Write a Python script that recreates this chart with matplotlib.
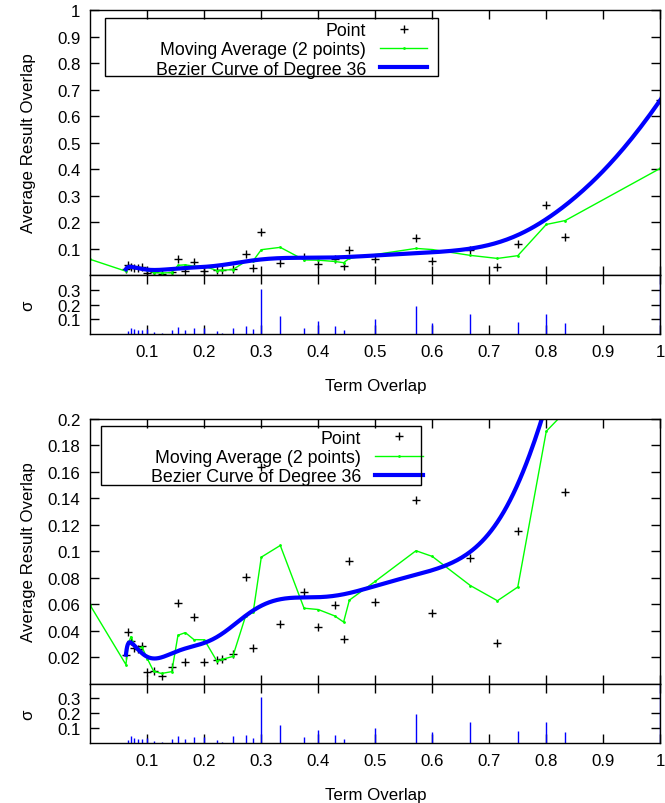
import math
import numpy as np
import pandas as pd
import matplotlib
matplotlib.use("Agg")
import matplotlib.pyplot as plt
from matplotlib.patches import Rectangle

plt.rcParams['font.family'] = ['Liberation Sans', 'DejaVu Sans']
plt.rcParams['font.size'] = 12.2

# term overlap / average result overlap
term_overlap = [0.0625, 0.0667, 0.0714, 0.0769, 0.0833, 0.0909, 0.1, 0.1111,
                0.125, 0.1429, 0.1538, 0.1667, 0.1818, 0.2, 0.2222, 0.2308,
                0.25, 0.2727, 0.2857, 0.3, 0.3333, 0.375, 0.4, 0.4286,
                0.4444, 0.4545, 0.5, 0.5714, 0.6, 0.6667, 0.7143, 0.75,
                0.8, 0.8333, 1.0]
result_overlap = [0.0218, 0.039, 0.032, 0.027, 0.026, 0.0287, 0.0090, 0.0095,
                  0.0057, 0.0123, 0.0607, 0.0163, 0.0501, 0.0160, 0.0178, 0.0186,
                  0.0223, 0.0804, 0.0271, 0.164, 0.0448, 0.0691, 0.0428, 0.0595,
                  0.0335, 0.0926, 0.0620, 0.1388, 0.0534, 0.0948, 0.0304, 0.1155,
                  0.266, 0.1451, 0.66]
sigma = [0.0, 0.02, 0.044, 0.031, 0.029, 0.024, 0.031, 0.013,
         0.004, 0.024, 0.047, 0.027, 0.038, 0.04, 0.02, 0.009,
         0.044, 0.056, 0.036, 0.307, 0.12, 0.038, 0.089, 0.053,
         0.027, 0.0, 0.102, 0.193, 0.073, 0.138, 0.0, 0.08,
         0.138, 0.073, 0.45]
# moving average enters from the left edge
ma_start_x = 0.0
ma_start_y = 0.059
ma_first = 0.0143

x = np.array(term_overlap)
y = np.array(result_overlap)

ma = pd.Series(y).rolling(2).mean().to_numpy()
ma[0] = ma_first
ma_x = np.concatenate([[ma_start_x], x])
ma_y = np.concatenate([[ma_start_y], ma])

# bezier with all points as control points
n = len(x) - 1
t = np.linspace(0, 1, 600)
bx = np.zeros_like(t)
by = np.zeros_like(t)
for i in range(n + 1):
    b = math.comb(n, i) * t**i * (1 - t)**(n - i)
    bx += b * x[i]
    by += b * y[i]

fig = plt.figure(figsize=(6.65, 8.04), dpi=100)
L, W = 0.1358, 0.8571
# (main axes, sigma axes, ymax, yticks, legend box, legend anchor)
panels = [
    (fig.add_axes([L, 0.6567, W, 0.3296]), fig.add_axes([L, 0.5833, W, 0.0734]),
     1.0, np.arange(0.1, 1.01, 0.1), (0.026, 0.751, 0.584, 0.219), (0.591, 0.955)),
    (fig.add_axes([L, 0.1486, W, 0.3290]), fig.add_axes([L, 0.0746, W, 0.0740]),
     0.2, np.arange(0.02, 0.201, 0.02), (0.019, 0.7505, 0.562, 0.222), (0.583, 0.960)),
]

for ax, sx, ytop, yt, box, anchor in panels:
    ax.plot(x, y, '+', color='black', ms=5.5, mew=1, label='Point')
    ax.plot(ma_x, ma_y, '-', color='#00ff00', lw=1, marker='.', ms=2,
            label='Moving Average (2 points)')
    ax.plot(bx, by, '-', color='#0000ff', lw=3, label='Bezier Curve of Degree 36')
    ax.set_xlim(0, 1)
    ax.set_ylim(0, ytop)
    ax.set_yticks(yt)
    ax.set_yticklabels(['%g' % round(v, 2) for v in yt])
    ax.set_xticks(np.arange(0.1, 1.01, 0.1))
    ax.tick_params(labelbottom=False)
    ax.set_ylabel('Average Result Overlap')
    ax.yaxis.set_label_coords(-0.096, 0.5)

    ax.add_patch(Rectangle(box[:2], box[2], box[3], transform=ax.transAxes,
                           fill=False, ec='black', lw=1, zorder=6))
    ax.legend(loc='upper right', bbox_to_anchor=anchor, borderaxespad=0,
              borderpad=0, markerfirst=False, frameon=False, handlelength=2.65,
              handletextpad=0.8, labelspacing=0.13, fontsize=12.8)

    sx.vlines(x, 0, sigma, color='#0000ff', lw=1)
    sx.set_xlim(0, 1)
    sx.set_ylim(0, 0.4)
    sx.set_yticks([0.1, 0.2, 0.3])
    sx.set_yticklabels(['0.1', '0.2', '0.3'])
    sx.set_xticks(np.arange(0.1, 1.01, 0.1))
    sx.set_xticklabels(['0.1', '0.2', '0.3', '0.4', '0.5', '0.6', '0.7', '0.8', '0.9', '1'])
    sx.set_ylabel('σ')
    sx.yaxis.set_label_coords(-0.096, 0.5)
    sx.set_xlabel('Term Overlap')
    sx.xaxis.set_label_coords(0.5, -0.74)

    for a in (ax, sx):
        a.tick_params(direction='in', length=6.5, width=1, top=True, right=True,
                      pad=7, colors='black')
        for s in a.spines.values():
            s.set_linewidth(1)

fig.savefig('out.png', dpi=100)
